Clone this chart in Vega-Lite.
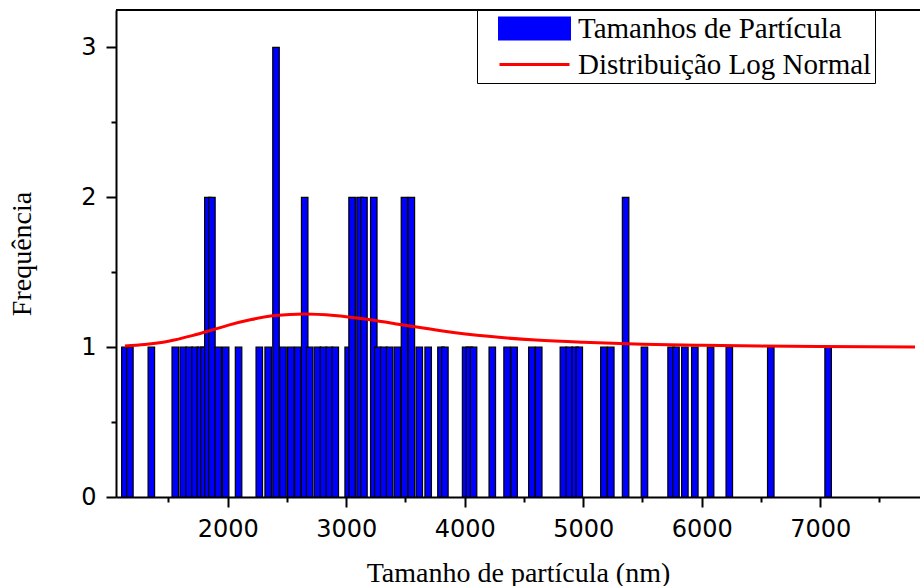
{
  "$schema": "https://vega.github.io/schema/vega-lite/v6.json",
  "width": 804,
  "height": 487,
  "autosize": "none",
  "padding": {"left": 116, "top": 10, "right": 0, "bottom": 89},
  "background": "white",
  "config": {"view": {"stroke": null}},
  "datasets": {
    "bars": [
      {"size_nm": 1133, "count": 1}, {"size_nm": 1175, "count": 1}, {"size_nm": 1356, "count": 1},
      {"size_nm": 1558, "count": 1}, {"size_nm": 1625, "count": 1}, {"size_nm": 1675, "count": 1},
      {"size_nm": 1725, "count": 1}, {"size_nm": 1770, "count": 1}, {"size_nm": 1800, "count": 1},
      {"size_nm": 1833, "count": 2}, {"size_nm": 1867, "count": 2}, {"size_nm": 1920, "count": 1},
      {"size_nm": 1983, "count": 1}, {"size_nm": 2092, "count": 1}, {"size_nm": 2267, "count": 1},
      {"size_nm": 2342, "count": 1}, {"size_nm": 2408, "count": 3}, {"size_nm": 2467, "count": 1},
      {"size_nm": 2533, "count": 1}, {"size_nm": 2592, "count": 1}, {"size_nm": 2650, "count": 2},
      {"size_nm": 2692, "count": 1}, {"size_nm": 2758, "count": 1}, {"size_nm": 2808, "count": 1},
      {"size_nm": 2858, "count": 1}, {"size_nm": 2908, "count": 1}, {"size_nm": 3017, "count": 1},
      {"size_nm": 3050, "count": 2}, {"size_nm": 3117, "count": 2}, {"size_nm": 3150, "count": 2},
      {"size_nm": 3233, "count": 2}, {"size_nm": 3267, "count": 1}, {"size_nm": 3317, "count": 1},
      {"size_nm": 3367, "count": 1}, {"size_nm": 3433, "count": 1}, {"size_nm": 3492, "count": 2},
      {"size_nm": 3550, "count": 2}, {"size_nm": 3617, "count": 1}, {"size_nm": 3692, "count": 1},
      {"size_nm": 3800, "count": 1}, {"size_nm": 3833, "count": 1}, {"size_nm": 4008, "count": 1},
      {"size_nm": 4040, "count": 1}, {"size_nm": 4075, "count": 1}, {"size_nm": 4233, "count": 1},
      {"size_nm": 4358, "count": 1}, {"size_nm": 4417, "count": 1}, {"size_nm": 4567, "count": 1},
      {"size_nm": 4625, "count": 1}, {"size_nm": 4833, "count": 1}, {"size_nm": 4883, "count": 1},
      {"size_nm": 4933, "count": 1}, {"size_nm": 4967, "count": 1}, {"size_nm": 5175, "count": 1},
      {"size_nm": 5233, "count": 1}, {"size_nm": 5358, "count": 2}, {"size_nm": 5517, "count": 1},
      {"size_nm": 5742, "count": 1}, {"size_nm": 5783, "count": 1}, {"size_nm": 5858, "count": 1},
      {"size_nm": 5942, "count": 1}, {"size_nm": 6075, "count": 1}, {"size_nm": 6233, "count": 1},
      {"size_nm": 6583, "count": 1}, {"size_nm": 7067, "count": 1}
    ],
    "fit": [
      {"size_nm": 1133, "freq": 1.008}, {"size_nm": 1300, "freq": 1.018}, {"size_nm": 1500, "freq": 1.04},
      {"size_nm": 1700, "freq": 1.077}, {"size_nm": 1900, "freq": 1.122}, {"size_nm": 2000, "freq": 1.145},
      {"size_nm": 2200, "freq": 1.184}, {"size_nm": 2400, "freq": 1.211}, {"size_nm": 2650, "freq": 1.222},
      {"size_nm": 2900, "freq": 1.212}, {"size_nm": 3200, "freq": 1.183}, {"size_nm": 3500, "freq": 1.146},
      {"size_nm": 3800, "freq": 1.11}, {"size_nm": 4200, "freq": 1.072}, {"size_nm": 4600, "freq": 1.047},
      {"size_nm": 5000, "freq": 1.032}, {"size_nm": 5500, "freq": 1.02}, {"size_nm": 6000, "freq": 1.012},
      {"size_nm": 6500, "freq": 1.007}, {"size_nm": 7000, "freq": 1.004}, {"size_nm": 7800, "freq": 1.001}
    ]
  },
  "layer": [
    {
      "data": {"name": "bars"},
      "mark": {"type": "bar", "size": 6.5, "stroke": "black", "strokeWidth": 1.2, "clip": true},
      "encoding": {
        "x": {
          "field": "size_nm", "type": "quantitative",
          "scale": {"domain": [1100, 7800], "nice": false, "zero": false},
          "axis": {
            "title": "Tamanho de partícula (nm)",
            "values": [1500, 2000, 2500, 3000, 3500, 4000, 4500, 5000, 5500, 6000, 6500, 7000, 7500],
            "format": "d",
            "labelExpr": "datum.value % 1000 === 0 ? datum.label : ''",
            "tickSize": {"condition": {"test": "datum.value % 1000 === 0", "value": 10}, "value": 5},
            "tickWidth": 2, "tickColor": "black",
            "domainColor": "black", "domainWidth": 2,
            "labelFont": "DejaVu Sans", "labelFontSize": 24, "labelColor": "black", "labelPadding": 10,
            "labelFlush": false, "labelOverlap": false,
            "grid": false,
            "titleFont": "Liberation Serif", "titleFontSize": 28, "titleFontWeight": "normal", "titleColor": "black",
            "titlePadding": 18
          }
        },
        "y": {
          "field": "count", "type": "quantitative",
          "scale": {"domain": [0, 3.25], "nice": false},
          "axis": {
            "title": "Frequência",
            "values": [0, 0.5, 1, 1.5, 2, 2.5, 3],
            "labelExpr": "datum.value % 1 === 0 ? format(datum.value, 'd') : ''",
            "tickSize": {"condition": {"test": "datum.value % 1 === 0", "value": 10}, "value": 5},
            "tickWidth": 2, "tickColor": "black",
            "domainColor": "black", "domainWidth": 2,
            "labelFont": "DejaVu Sans", "labelFontSize": 24, "labelColor": "black", "labelPadding": 10,
            "labelFlush": false, "labelOverlap": false,
            "grid": false,
            "titleFont": "Liberation Serif", "titleFontSize": 28, "titleFontWeight": "normal", "titleColor": "black",
            "titlePadding": 44
          }
        },
        "color": {
          "datum": "Tamanhos de Partícula",
          "scale": {"domain": ["Tamanhos de Partícula", "Distribuição Log Normal"], "range": ["#0000FF", "#FF0000"]},
          "legend": {
            "title": null,
            "orient": "none",
            "legendX": 361,
            "legendY": 0,
            "direction": "vertical",
            "labelFont": "Liberation Serif",
            "labelFontSize": 29,
            "labelColor": "black",
            "labelLimit": 0,
            "symbolSize": 784,
            "symbolType": {"expr": "datum.value === 'Tamanhos de Partícula' ? 'M-2.5,-0.75H2.5V0.75H-2.5Z' : 'M-2.5,0H2.5'"},
            "symbolStrokeWidth": 3,
            "symbolOpacity": 1,
            "symbolOffset": 39,
            "labelOffset": 28,
            "padding": 3,
            "rowPadding": 4,
            "strokeColor": "black",
            "fillColor": "white"
          }
        }
      }
    },
    {
      "data": {"name": "fit"},
      "mark": {"type": "line", "strokeWidth": 3, "interpolate": "monotone", "clip": true},
      "encoding": {
        "x": {"field": "size_nm", "type": "quantitative"},
        "y": {"field": "freq", "type": "quantitative"},
        "color": {"datum": "Distribuição Log Normal"}
      }
    },
    {
      "data": {"values": [{}]},
      "mark": {"type": "rule", "color": "black", "strokeWidth": 2},
      "encoding": {"y": {"datum": 3.25}}
    }
  ]
}
